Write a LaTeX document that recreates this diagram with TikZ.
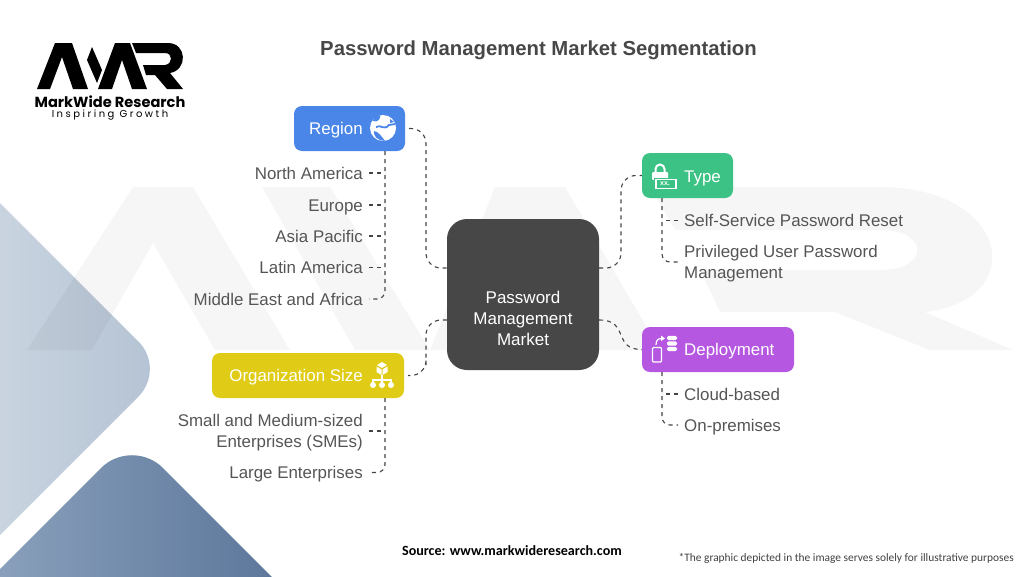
\documentclass[tikz,border=0pt]{standalone}
\usepackage{fontspec}
\setmainfont{Liberation Sans}
\newfontfamily\logofont{Poppins}
\newfontfamily\notefont{Carlito}
\usetikzlibrary{calc}
\definecolor{regionblue}{HTML}{4A86E8}
\definecolor{typegreen}{HTML}{3DC285}
\definecolor{deploypurple}{HTML}{B557E0}
\definecolor{orgyellow}{HTML}{E0CC17}
\definecolor{marketgray}{HTML}{474747}
\definecolor{leafgray}{HTML}{555555}
\definecolor{linkgray}{HTML}{444444}
\definecolor{paleleft}{HTML}{D2DBE5}
\definecolor{paleright}{HTML}{B3C2D3}
\definecolor{deepleft}{HTML}{93A8C2}
\definecolor{deepright}{HTML}{557196}
\tikzset{
	catbox/.style={rounded corners=8pt, minimum height=45pt, inner sep=0pt},
	cattext/.style={text=white, inner sep=0pt, font=\fontsize{16.9}{21}\selectfont, text height=14pt, text depth=2pt},
	leaf/.style={text=leafgray, inner sep=0pt, font=\fontsize{16.9}{21}\selectfont, text height=14pt, text depth=2pt},
	leaftwo/.style={text=leafgray, inner sep=0pt, font=\fontsize{16.9}{21}\selectfont},
	link/.style={draw=linkgray, line width=1.1pt, dash pattern=on 4pt off 4pt},
	stem/.style={link, rounded corners=8pt},
	trunk/.style={link, rounded corners=15pt},
	iconline/.style={draw=white, line width=1.2pt},
	watermark/.style={black, opacity=0.036}
}
\begin{document}
\begin{tikzpicture}[x=1pt, y=-1pt]
		%%%%% BACKGROUND %%%%%
		\useasboundingbox (0, 0) rectangle (1024, 576);
		\begin{scope}
		\clip (0, 0) rectangle (1024, 576);
		\shade[left color=paleleft, right color=paleright, rounded corners=39pt] (-70, 133) -- (166, 369) -- (-70, 605) -- cycle;
		\shade[left color=deepleft, right color=deepright, rounded corners=44pt] (132, 437) -- (320, 625) -- (-60, 629) -- cycle;
		% watermark
		\fill[watermark] (27, 350) -- (133, 187) -- (193, 187) -- (290, 350) -- (215, 350) -- (153, 243) -- (92, 350) -- cycle;
		\fill[watermark] (262, 187) -- (330, 187) -- (430, 350) -- (355, 350) -- cycle;
		\fill[watermark] (430, 350) -- (495, 187) -- (565, 187) -- (660, 350) -- (585, 350) -- (530, 250) -- (480, 350) -- cycle;
		\fill[watermark] (650, 187) -- (880, 187) .. controls (1010, 187) and (1030, 300) .. (925, 312) -- (1013, 350) -- (930, 350) -- (835, 312) -- (720, 312) -- (700, 270) -- (880, 270) .. controls (930, 270) and (930, 230) .. (880, 230) -- (675, 230) -- cycle;
		\end{scope}
		
		%%%%% LOGO %%%%%
		\fill[black] (37, 89) -- (55, 43) -- (72, 43) -- (88, 89) -- (73, 89) -- (62, 57) -- (50, 89) -- cycle;
		\fill[black] (92, 47) -- (102, 70) -- (97, 83) -- (87, 60) -- cycle;
		\fill[black] (98, 89) -- (115, 43) -- (130, 43) -- (147, 89) -- (132, 89) -- (122, 60) -- (112, 89) -- cycle;
		\fill[black] (132, 43) -- (168, 43) .. controls (187, 43) and (188, 70) .. (170, 73) -- (183, 89) -- (167, 89) -- (155, 75) -- (146, 75) -- (143, 65) -- (165, 65) .. controls (173, 64) and (173, 53) .. (165, 53) -- (136, 53) -- cycle;
		\node[inner sep=0pt, font=\logofont\bfseries\fontsize{14.6}{16}\selectfont] (logoname) at (110, 101.5) {MarkWide Research};
		\node[inner sep=0pt, font=\logofont\fontsize{10}{12}\selectfont\addfontfeature{LetterSpace=25}] (logotag) at (110, 115) {Inspiring Growth};
		
		%%%%% TITLE %%%%%
		\node[inner sep=0pt, text=marketgray, font=\bfseries\fontsize{20.3}{24}\selectfont] (title) at (538.5, 50) {Password Management Market Segmentation};
		
		%%%%% CENTRE AND CATEGORIES %%%%%
		\node[fill=marketgray, rounded corners=20pt, minimum width=152pt, minimum height=151pt, inner sep=0pt] (market) at (523, 294.5) {};
		\node[inner sep=0pt, text=white, align=center, font=\fontsize{17}{21}\selectfont] (markettext) at (523, 318) {Password\\Management\\Market};
		\node[catbox, fill=regionblue, minimum width=111pt] (region) at (349.5, 128.5) {};
		\node[catbox, fill=typegreen, minimum width=91pt] (type) at (687.5, 175.5) {};
		\node[catbox, fill=deploypurple, minimum width=152pt] (deployment) at (718, 349.5) {};
		\node[catbox, fill=orgyellow, minimum width=192pt] (orgsize) at (308, 375.5) {};
		
		\node[cattext, anchor=east] (regiontext) at (363, 128.5) {Region};
		\node[cattext, anchor=west] (typetext) at (684, 176) {Type};
		\node[cattext, anchor=west] (deploytext) at (684, 349.5) {Deployment};
		\node[cattext, anchor=east] (orgtext) at (363, 375.5) {Organization Size};
		
		%%%%% LEAVES %%%%%
		\node[leaf, anchor=east] (nam) at (363, 173) {North America};
		\node[leaf, anchor=east] (eur) at (363, 205) {Europe};
		\node[leaf, anchor=east] (apa) at (363, 236) {Asia Pacific};
		\node[leaf, anchor=east] (lat) at (363, 267.5) {Latin America};
		\node[leaf, anchor=east] (mea) at (363, 299) {Middle East and Africa};
		\node[leaftwo, anchor=east, align=right] (sme) at (363, 432.5) {Small and Medium-sized\\Enterprises (SMEs)};
		\node[leaf, anchor=east] (large) at (363, 472.5) {Large Enterprises};
		\node[leaf, anchor=west] (sspr) at (684, 220.5) {Self-Service Password Reset};
		\node[leaftwo, anchor=west, align=left] (pupm) at (684, 264) {Privileged User Password\\Management};
		\node[leaf, anchor=west] (cloud) at (684, 394) {Cloud-based};
		\node[leaf, anchor=west] (onprem) at (684, 425) {On-premises};
		
		%%%%% CONNECTORS %%%%%
		\coordinate (regionstem) at (385, 151);
		\coordinate (orgstem) at (385, 398);
		\coordinate (typestem) at (662, 198);
		\coordinate (deploystem) at (662, 372);
		
		\draw[trunk] ([xshift=4pt]region.east) -| (426, 200) |- ([yshift=26.5pt]market.west);
		\draw[trunk] ([yshift=-25.5pt]market.west) -| (426, 350) |- ([xshift=4pt]orgsize.east);
		\draw[trunk] ([yshift=26.5pt]market.east) -| (621, 220) |- (type.west);
		\draw[link] ([yshift=-25.5pt]market.east) .. controls (630, 320) and (612, 349.5) .. (deployment.west);
		
		\draw[stem] (regionstem) |- ([xshift=6pt]mea.east);
		\foreach \leafname in {nam, eur, apa, lat}
			\draw[link] ([xshift=6pt]\leafname.east) -- (\leafname.east -| regionstem);
		\draw[stem] (orgstem) |- ([xshift=6pt]large.east);
		\draw[link] ([xshift=6pt, yshift=1.5pt]sme.east) -- ([yshift=1.5pt]sme.east -| orgstem);
		\draw[stem] (typestem) |- ([xshift=-6pt, yshift=2pt]pupm.west);
		\draw[link] ([xshift=-6pt]sspr.west) -- (sspr.west -| typestem);
		\draw[stem] (deploystem) |- ([xshift=-6pt]onprem.west);
		\draw[link] ([xshift=-6pt]cloud.west) -- (cloud.west -| deploystem);
		
		%%%%% ICONS %%%%%
		% globe
		\fill[white] (383, 128) circle (13);
		\fill[regionblue] (373, 121) .. controls (378, 123) and (381, 118) .. (380, 115.5) .. controls (376, 116) and (373, 118) .. (373, 121) -- cycle;
		\draw[regionblue, line width=1.8pt] (376, 127) .. controls (381, 124) and (384, 131) .. (389, 125) -- (395, 124);
		\fill[regionblue] (374, 131) .. controls (378, 131) and (382, 137) .. (385, 141) .. controls (378, 141) and (373, 136) .. (374, 131) -- cycle;
		\fill[regionblue] (390, 119) -- (394, 122) -- (390, 123) -- cycle;
		% lock and password field
		\draw[white, line width=2pt] (655.5, 172) -- (655.5, 169) arc (180:360:4.5) -- (664.5, 172);
		\fill[white, rounded corners=1pt] (652, 172) rectangle (668, 180);
		\fill[typegreen] (654, 178) rectangle (677, 190);
		\draw[iconline] (656, 179.5) rectangle (676, 188.5);
		\node[inner sep=0pt, text=white, font=\bfseries\fontsize{7}{7}\selectfont] (pwdmark) at (665, 184) {xx.};
		% phone and servers
		\draw[iconline, rounded corners=1pt] (652.5, 347.5) rectangle (661.5, 362);
		\draw[iconline] (656, 345) .. controls (656, 340) and (658, 338.5) .. (662, 338.5);
		\fill[white] (661, 335.5) -- (665, 338.5) -- (661, 341) -- cycle;
		\foreach \servy in {338, 343.5, 349}
			\fill[white, rounded corners=1.5pt] (667, \servy-2.2) rectangle (677, \servy+2.2);
		% organisation tree
		\fill[white] (382, 362) -- (387, 365) -- (382, 368) -- (377, 365) -- cycle;
		\fill[white] (376.5, 366.5) -- (381.5, 369.5) -- (381.5, 375) -- (376.5, 372) -- cycle;
		\fill[white] (387.5, 366.5) -- (382.5, 369.5) -- (382.5, 375) -- (387.5, 372) -- cycle;
		\draw[white, line width=1.1pt] (382, 375) -- (382, 384) (373, 384) -- (373, 380) -- (391, 380) -- (391, 384);
		\foreach \leafx in {373, 382, 391}
			\fill[white] (\leafx, 385) circle (3);
		
		%%%%% NOTES %%%%%
		\node[inner sep=0pt, font=\notefont\bfseries\fontsize{14.1}{16}\selectfont] (source) at (512, 551) {Source: www.markwideresearch.com};
		\node[inner sep=0pt, anchor=east, text=black!75, font=\notefont\fontsize{11.4}{14}\selectfont] (footnote) at (1014, 558) {*The graphic depicted in the image serves solely for illustrative purposes};
	\end{tikzpicture}
\end{document}
